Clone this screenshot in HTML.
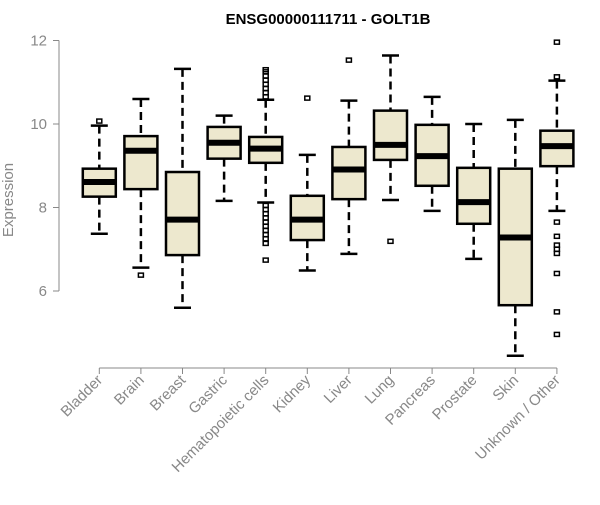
<!DOCTYPE html>
<html><head><meta charset="utf-8"><style>
body{margin:0;background:#fff;}
svg text{font-family:"Liberation Sans",sans-serif;}
</style></head><body>
<svg id="chart" width="600" height="500" xmlns="http://www.w3.org/2000/svg">
<text x="328" y="24" text-anchor="middle" font-size="15" font-weight="bold">ENSG00000111711 - GOLT1B</text>
<text transform="translate(13,200) rotate(-90)" text-anchor="middle" font-size="15" fill="#888">Expression</text>
<g id="axes"></g>
<g id="boxes"></g>
</svg>
<script>
const categories=["Bladder","Brain","Breast","Gastric","Hematopoietic cells","Kidney","Liver","Lung","Pancreas","Prostate","Skin","Unknown / Other"];
const lowWhisker=[7.37,6.56,5.6,8.16,8.12,6.49,6.89,8.18,7.92,6.77,4.45,7.92];
const q1=[8.26,8.44,6.86,9.17,9.07,7.22,8.2,9.14,8.52,7.61,5.66,8.99];
const medians=[8.61,9.36,7.71,9.55,9.41,7.71,8.91,9.5,9.23,8.13,7.28,9.47];
const q3=[8.93,9.71,8.85,9.93,9.69,8.28,9.45,10.32,9.98,8.95,8.93,9.84];
const highWhisker=[9.96,10.6,11.32,10.2,10.58,9.26,10.56,11.64,10.65,10.0,10.1,11.04];
const outliers=[[10.07],[6.38],[],[],[10.65,10.75,10.85,10.95,11.05,11.15,11.25,11.3,8.05,7.95,7.85,7.75,7.65,7.55,7.45,7.35,7.25,7.14,6.74],[10.62],[11.53],[7.19],[],[],[],[11.96,11.13,7.65,7.31,7.1,7.0,6.9,6.42,5.5,4.96]];
const yTicks=[6,8,10,12];
const NS="http://www.w3.org/2000/svg";
const y=v=>291-(v-6)*41.75;
const x=i=>99.3+i*41.6;
function mk(tag,attrs,parent){const e=document.createElementNS(NS,tag);for(const k in attrs)e.setAttribute(k,attrs[k]);parent.appendChild(e);return e;}
const axes=document.getElementById('axes');
const yl=mk('line',{x1:59,x2:59,y1:y(12),y2:y(6),stroke:'#888'},axes);


yTicks.forEach(t=>{
  const l=mk('line',{x1:53,x2:59,y1:y(t),y2:y(t),stroke:'#888'},axes);
  
  
  const tx=mk('text',{x:47,y:y(t)+5,'text-anchor':'end','font-size':15,fill:'#888'},axes);
  tx.textContent=t;
  
  
});
const xl=mk('line',{x1:x(0),x2:x(categories.length-1),y1:368,y2:368,stroke:'#888'},axes);


const g=document.getElementById('boxes');
categories.forEach((c,i)=>{
  const cx=x(i);
  const t=mk('line',{x1:cx,x2:cx,y1:368,y2:374,stroke:'#888'},axes);
  
  
  const lb=mk('text',{transform:`translate(${cx+4},${381}) rotate(-45)`,'text-anchor':'end','font-size':15,fill:'#888'},axes);
  lb.textContent=c;
  
  
  const bg=mk('g',{},g);
  
  
  mk('line',{x1:cx,x2:cx,y1:y(highWhisker[i]),y2:y(q3[i]),stroke:'#000','stroke-width':2.5,'stroke-dasharray':'8,5'},bg);
  mk('line',{x1:cx,x2:cx,y1:y(q1[i]),y2:y(lowWhisker[i]),stroke:'#000','stroke-width':2.5,'stroke-dasharray':'8,5'},bg);
  mk('line',{x1:cx-8.5,x2:cx+8.5,y1:y(highWhisker[i]),y2:y(highWhisker[i]),stroke:'#000','stroke-width':2.5},bg);
  mk('line',{x1:cx-8.5,x2:cx+8.5,y1:y(lowWhisker[i]),y2:y(lowWhisker[i]),stroke:'#000','stroke-width':2.5},bg);
  mk('rect',{x:cx-16.5,y:y(q3[i]),width:33,height:y(q1[i])-y(q3[i]),fill:'#EDE8CE',stroke:'#000','stroke-width':2.5},bg);
  mk('line',{x1:cx-16.5,x2:cx+16.5,y1:y(medians[i]),y2:y(medians[i]),stroke:'#000','stroke-width':6},bg);
  outliers[i].forEach(v=>{
    const o=mk('rect',{x:cx-2.5,y:y(v)-2,width:5,height:4,fill:'none',stroke:'#000','stroke-width':1.5},bg);
    
    
  });
});
</script>
</body></html>
